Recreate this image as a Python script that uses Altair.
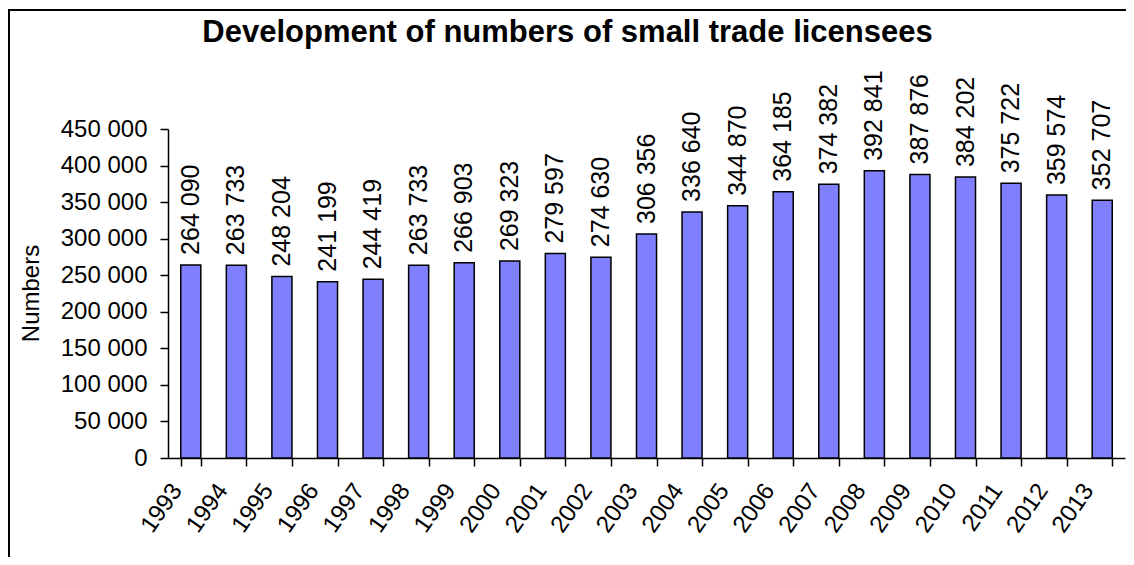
import altair as alt
import pandas as pd

years = ["1993", "1994", "1995", "1996", "1997", "1998", "1999", "2000", "2001", "2002",
         "2003", "2004", "2005", "2006", "2007", "2008", "2009", "2010", "2011", "2012", "2013"]
values = [264090, 263733, 248204, 241199, 244419, 263733, 266903, 269323, 279597, 274630,
          306356, 336640, 344870, 364185, 374382, 392841, 387876, 384202, 375722, 359574, 352707]
y_ticks = [0, 50000, 100000, 150000, 200000, 250000, 300000, 350000, 400000, 450000]

df = pd.DataFrame({"year": years, "value": values})
df["label"] = [f"{v:,}".replace(",", " ") for v in values]

FONT = "Liberation Sans"

x_enc = alt.X("year:N", sort=years,
              scale=alt.Scale(paddingInner=0.56, paddingOuter=0.28),
              axis=alt.Axis(title=None, tickBand="extent", labelAngle=305,
                            labelAlign="right", labelBaseline="middle",
                            labelOffset=-14, labelPadding=20, tickSize=8,
                            labelFontSize=24, labelFont=FONT, labelColor="black",
                            labelOverlap=False,
                            domainColor="black", domainWidth=1.5,
                            tickColor="black", tickWidth=1.5, grid=False))
y_enc = alt.Y("value:Q",
              scale=alt.Scale(domain=[0, 450000], nice=False),
              axis=alt.Axis(title="Numbers", values=y_ticks,
                            labelExpr="replace(format(datum.value, ','), ',', ' ')",
                            labelFontSize=24, labelFont=FONT, labelColor="black",
                            labelOverlap=False,
                            labelPadding=13, tickSize=8,
                            domainColor="black", domainWidth=1.5,
                            tickColor="black", tickWidth=1.5, grid=False,
                            titleFont=FONT, titleFontSize=24, titleFontWeight="normal",
                            titleColor="black", titleX=-137, titleY=164,
                            titleAlign="center", titleBaseline="middle", titleAngle=270))

bars = alt.Chart(df).mark_bar(fill="#8080FF", stroke="black", strokeWidth=1.5).encode(
    x=x_enc, y=y_enc)

labels = alt.Chart(df).mark_text(angle=270, align="left", baseline="middle", dx=10,
                                 fontSize=25, font=FONT, color="black").encode(
    x=x_enc, y=y_enc, text="label:N")

frame = alt.Chart(pd.DataFrame({"f": [0]})).mark_rect(
    fill=None, stroke="black", strokeWidth=2).encode(
    x=alt.value(-159), x2=alt.value(1000), y=alt.value(-119), y2=alt.value(500))

chart = alt.layer(frame, bars, labels).properties(
    width=957, height=329,
    autosize=alt.AutoSizeParams(type="none"),
    padding={"left": 160, "top": 121, "right": 1, "bottom": 99},
    title=alt.TitleParams("Development of numbers of small trade licensees",
                          font=FONT, fontSize=31, fontWeight="bold", color="black",
                          anchor="middle", dx=-79, offset=0, baseline="alphabetic",
                          dy=64),
).configure(background="white").configure_view(stroke=None)

chart.save("out.html", embed_options={"renderer": "svg", "actions": False})
